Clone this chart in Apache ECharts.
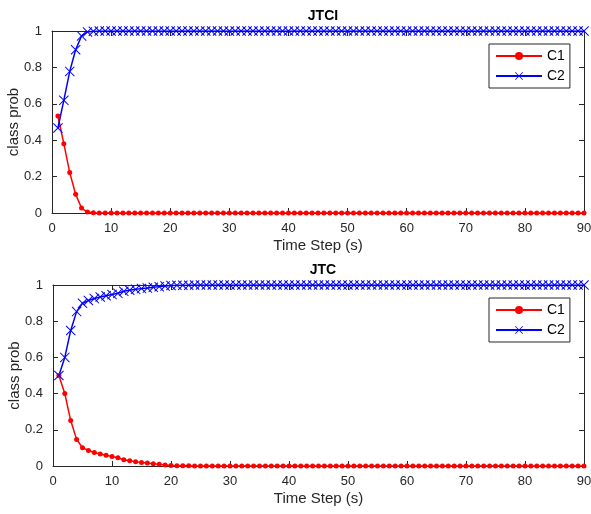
<!DOCTYPE html>
<html><head><meta charset="utf-8">
<script src="https://cdn.jsdelivr.net/npm/echarts@6/dist/echarts.min.js"></script>
<style>html,body{margin:0;padding:0;background:#fff}#c{width:591px;height:514px}</style>
</head><body><div id="c"></div>
<script>
var xTicks = [0,10,20,30,40,50,60,70,80,90];
var titles = ['JTCI','JTC'];
var jtciC1 = [
0.533,0.381,0.222,0.103,0.027,0.005,0.001,0,0,0,
0,0,0,0,0,0,0,0,0,0,
0,0,0,0,0,0,0,0,0,0,
0,0,0,0,0,0,0,0,0,0,
0,0,0,0,0,0,0,0,0,0,
0,0,0,0,0,0,0,0,0,0,
0,0,0,0,0,0,0,0,0,0,
0,0,0,0,0,0,0,0,0,0,
0,0,0,0,0,0,0,0,0,0];
var jtciC2 = [
0.467,0.619,0.778,0.897,0.973,0.995,0.999,1,1,1,
1,1,1,1,1,1,1,1,1,1,
1,1,1,1,1,1,1,1,1,1,
1,1,1,1,1,1,1,1,1,1,
1,1,1,1,1,1,1,1,1,1,
1,1,1,1,1,1,1,1,1,1,
1,1,1,1,1,1,1,1,1,1,
1,1,1,1,1,1,1,1,1,1,
1,1,1,1,1,1,1,1,1,1];
var jtcC1 = [
0.5,0.4,0.251,0.147,0.101,0.086,0.075,0.066,0.059,0.053,
0.046,0.035,0.029,0.024,0.020,0.017,0.013,0.009,0.006,0.003,
0.002,0.001,0.001,0,0,0,0,0,0,0,
0,0,0,0,0,0,0,0,0,0,
0,0,0,0,0,0,0,0,0,0,
0,0,0,0,0,0,0,0,0,0,
0,0,0,0,0,0,0,0,0,0,
0,0,0,0,0,0,0,0,0,0,
0,0,0,0,0,0,0,0,0,0];
var jtcC2 = [
0.5,0.6,0.749,0.853,0.899,0.914,0.925,0.934,0.941,0.947,
0.954,0.965,0.971,0.976,0.980,0.983,0.987,0.991,0.994,0.997,
0.998,0.999,0.999,1,1,1,1,1,1,1,
1,1,1,1,1,1,1,1,1,1,
1,1,1,1,1,1,1,1,1,1,
1,1,1,1,1,1,1,1,1,1,
1,1,1,1,1,1,1,1,1,1,
1,1,1,1,1,1,1,1,1,1,
1,1,1,1,1,1,1,1,1,1];

function pairs(arr){ return arr.map(function(v,i){ return [i+1, v]; }); }
var FONT = 'Liberation Sans, Arial, sans-serif';
var AX = '#262626';
var xSym = 'path://M0,0.7L0.7,0L5,4.3L9.3,0L10,0.7L5.7,5L10,9.3L9.3,10L5,5.7L0.7,10L0,9.3L4.3,5Z';

var grids = [
  {left:52, right:7, top:31, height:182, outerBoundsMode:'none', containLabel:false},
  {left:53, right:7, top:285, height:181, outerBoundsMode:'none', containLabel:false}
];
var xAxes = [], yAxes = [];
grids.forEach(function(g, gi){
  xAxes.push({gridIndex:gi, type:'value', min:0, max:90, interval:10, position:'bottom',
    name:'Time Step (s)', nameLocation:'middle', nameGap:25, nameMoveOverlap:false,
    nameTextStyle:{fontFamily:FONT, fontSize:15, color:AX},
    axisLine:{onZero:false, lineStyle:{color:AX, width:1}}, axisTick:{inside:true, length:5, lineStyle:{color:AX}},
    axisLabel:{fontFamily:FONT, fontSize:13, color:AX, margin:9}, splitLine:{show:false}});
  xAxes.push({gridIndex:gi, type:'value', min:0, max:90, interval:10, position:'top',
    axisLine:{onZero:false, lineStyle:{color:AX, width:1}}, axisTick:{inside:true, length:5, lineStyle:{color:AX}},
    axisLabel:{show:false}, splitLine:{show:false}});
  yAxes.push({gridIndex:gi, type:'value', min:0, max:1, interval:0.2, position:'left',
    name:'class prob', nameLocation:'middle', nameGap:31, nameRotate:90, nameMoveOverlap:false,
    nameTextStyle:{fontFamily:FONT, fontSize:15, color:AX},
    axisLine:{show:true, onZero:false, lineStyle:{color:AX, width:1}}, axisTick:{show:true, inside:true, length:5, lineStyle:{color:AX}},
    axisLabel:{fontFamily:FONT, fontSize:13, color:AX, margin:10, formatter:function(v){return String(+v.toFixed(1));}},
    splitLine:{show:false}});
  yAxes.push({gridIndex:gi, type:'value', min:0, max:1, interval:0.2, position:'right',
    axisLine:{show:true, onZero:false, lineStyle:{color:AX, width:1}}, axisTick:{show:true, inside:true, length:5, lineStyle:{color:AX}},
    axisLabel:{show:false}, splitLine:{show:false}});
});

function c1(data, gi){
  return {name:'C1', type:'line', xAxisIndex:gi*2, yAxisIndex:gi*2, data:pairs(data),
    symbol:'circle', symbolSize:5, showAllSymbol:true, animation:false,
    lineStyle:{color:'#ff0000', width:1.5}, itemStyle:{color:'#ff0000'}};
}
function c2(data, gi){
  return {name:'C2', type:'line', xAxisIndex:gi*2, yAxisIndex:gi*2, data:pairs(data),
    symbol:xSym, symbolSize:10, showAllSymbol:true, animation:false,
    lineStyle:{color:'#0000ff', width:1.5}, itemStyle:{color:'#0000ff'}};
}

var legendBase = {orient:'vertical', data:['C1','C2'], backgroundColor:'#fff',
  borderColor:AX, borderWidth:1, padding:[5,5,5,6], itemGap:6, itemWidth:46, itemHeight:10,
  textStyle:{fontFamily:FONT, fontSize:14, color:'#000'}, selectedMode:false};

var chart = echarts.init(document.getElementById('c'));
chart.setOption({
  backgroundColor:'#fff',
  animation:false,
  title:[
    {text:titles[0], left:318, top:4, textAlign:'center', textStyle:{fontFamily:FONT, fontSize:14, fontWeight:'bold', color:'#000'}},
    {text:titles[1], left:318, top:258, textAlign:'center', textStyle:{fontFamily:FONT, fontSize:14, fontWeight:'bold', color:'#000'}}
  ],
  grid:grids,
  xAxis:xAxes,
  yAxis:yAxes,
  legend:[
    Object.assign({}, legendBase, {left:489, top:44}),
    Object.assign({}, legendBase, {left:489, top:298})
  ],
  series:[c1(jtciC1,0), c2(jtciC2,0), c1(jtcC1,1), c2(jtcC2,1)]
});
</script></body></html>
